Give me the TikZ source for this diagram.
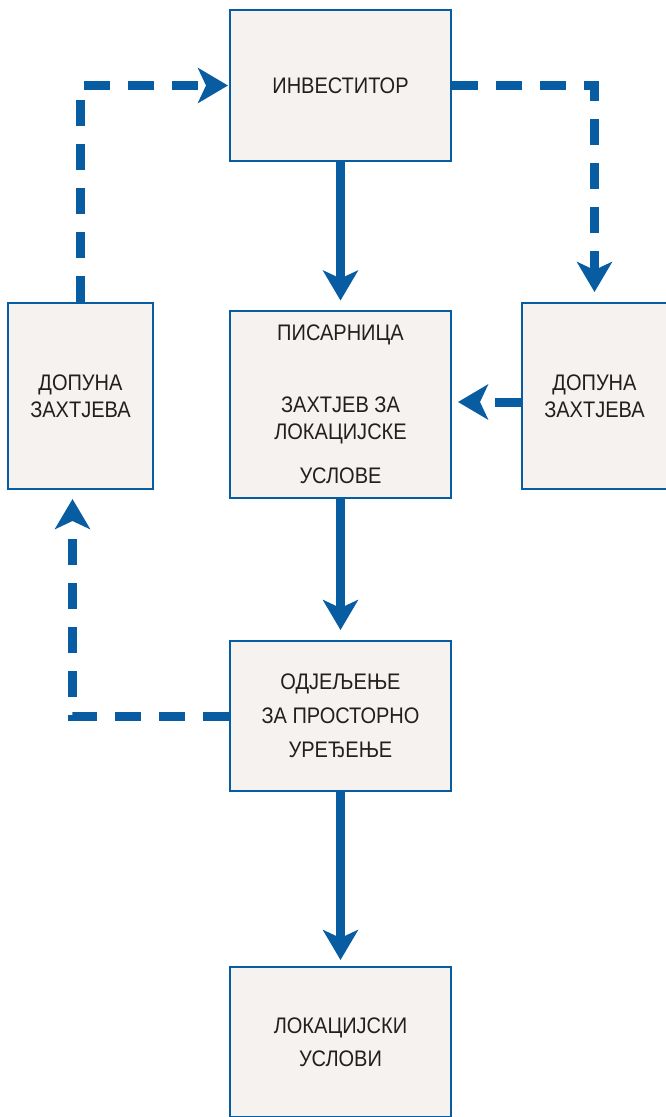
\documentclass[tikz,border=0pt]{standalone}
\usepackage{fontspec}
\setmainfont{Liberation Sans}[FakeStretch=0.89]
\usetikzlibrary{arrows.meta}
\definecolor{flowblue}{RGB}{8,92,162}
\definecolor{boxfill}{RGB}{246,242,239}
\definecolor{boxtext}{RGB}{35,31,32}

\begin{document}
\begin{tikzpicture}[x=1pt,y=-1pt,
    box/.style={draw=flowblue,line width=2pt,fill=boxfill,text=boxtext,
                align=center,inner sep=0pt,font=\fontsize{22.5}{27}\selectfont},
    wide/.style={box,minimum width=221pt},
    narrow/.style={box,minimum width=145pt,minimum height=186pt},
    flow/.style={draw=flowblue,line width=9pt,
                 -{Stealth[length=30pt,width=35pt,inset=8pt]}},
    back/.style={flow,dash pattern=on 26pt off 18pt}]
    \useasboundingbox (0,0) rectangle (665,1117);

    % boxes
    \node[wide,minimum height=151pt] (invest) at (340.5,85.5) {ИНВЕСТИТОР};
    \node[wide,minimum height=187pt] (pisar) at (340.5,404)
        {ПИСАРНИЦА\\[45pt]ЗАХТЈЕВ ЗА\\ЛОКАЦИЈСКЕ\\[17pt]УСЛОВЕ};
    \node[narrow] (dopL) at (80.5,396) {ДОПУНА\\ЗАХТЈЕВА};
    \node[narrow] (dopR) at (594.5,396) {ДОПУНА\\ЗАХТЈЕВА};
    \node[wide,minimum height=150pt] (odj) at (340.5,716)
        {ОДЈЕЉЕЊЕ\\[7pt]ЗА ПРОСТОРНО\\[7pt]УРЕЂЕЊЕ};
    \node[wide,minimum height=150pt] (uslovi) at (340.5,1042)
        {ЛОКАЦИЈСКИ\\[6pt]УСЛОВИ};

    % main line
    \draw[flow,shorten >=9pt] (invest) -- (pisar.north);
    \draw[flow,shorten >=10pt] (pisar) -- (odj);
    \draw[flow,shorten >=6pt] (odj) -- (uslovi);

    % returns
    \draw[back,shorten >=1pt] (dopL.north) |- (invest.west);
    \draw[back,shorten >=10pt] (invest.east) -| (dopR.north);
    \draw[back,shorten >=6pt] (dopR.west |- 0,402) -- (pisar.east |- 0,402);
    \draw[back,shorten >=9pt] (odj.west) -| ([xshift=-8pt]dopL.south);
\end{tikzpicture}
\end{document}
